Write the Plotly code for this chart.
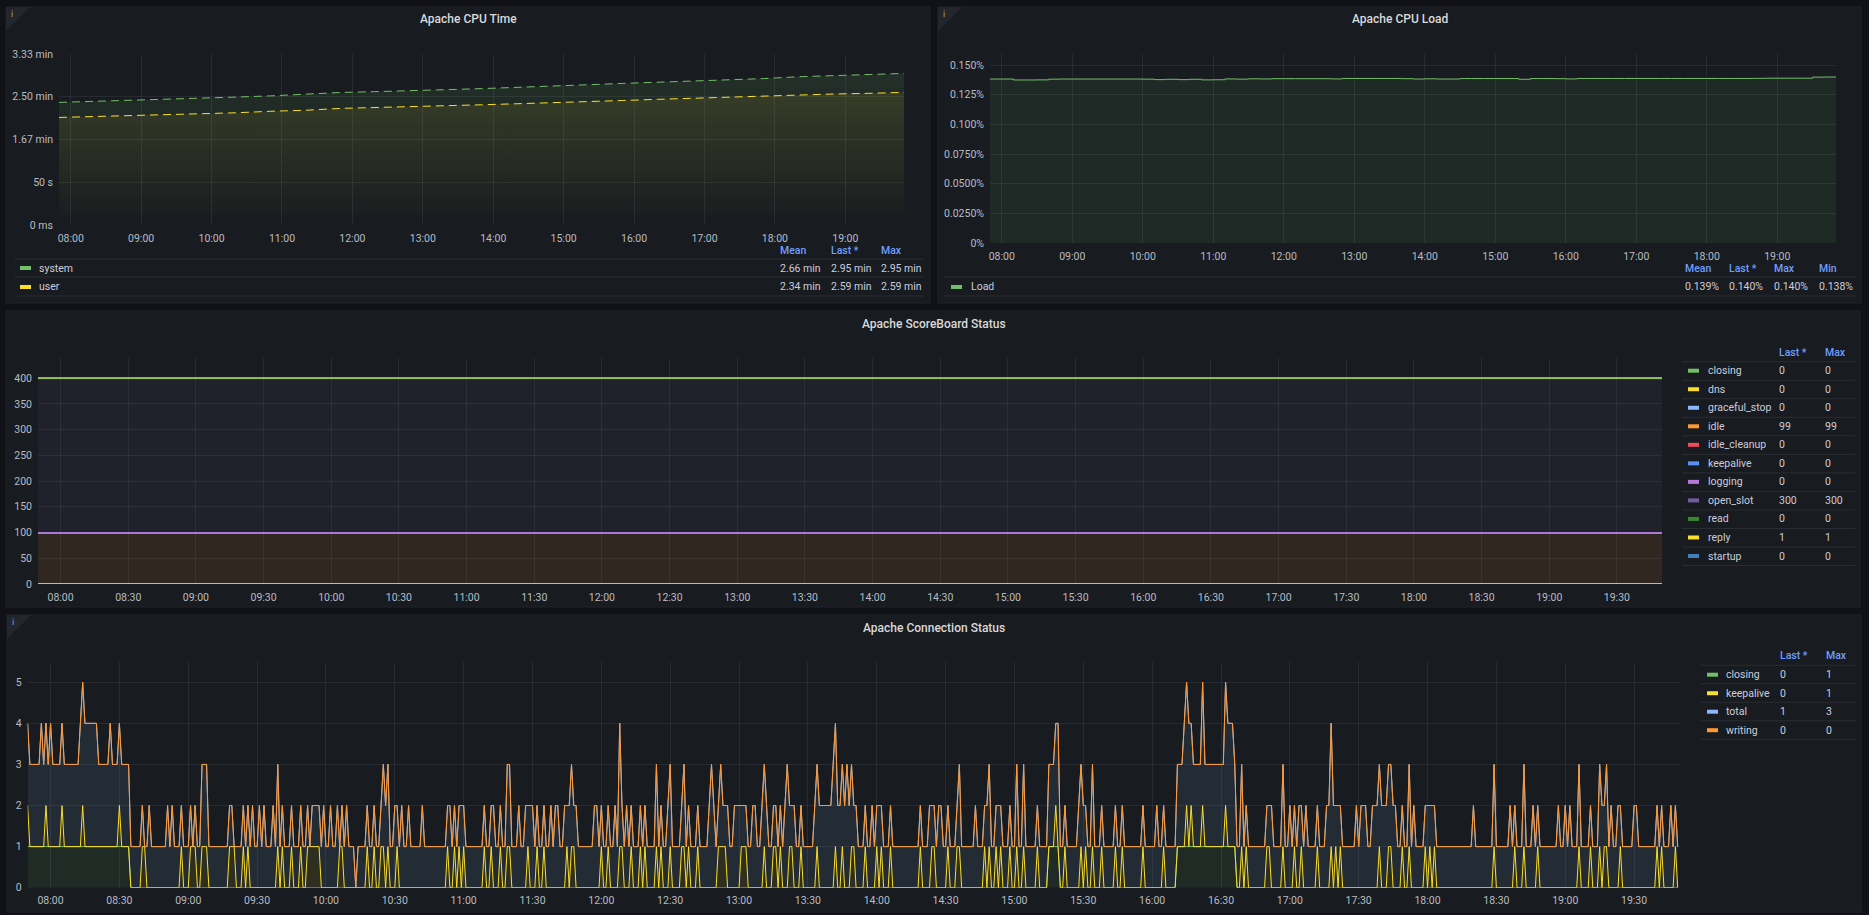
import pandas as pd
import plotly.graph_objects as go

W, H = 1869, 915
DAY = "2024-05-14"
T_START = DAY + " 07:50"
T_END = DAY + " 19:50"

FONT = "Roboto, Inter, sans-serif"
BG = "#111217"
PANEL = "#181b1f"
GRID = "rgba(204,204,220,0.09)"
SEP = "rgba(204,204,220,0.10)"
TEXT = "#ccccdc"
TICK = "#b9bcc4"
HDR = "#6e9fff"

cpu_system_s = [143.4, 144.5, 146.0, 147.2, 148.5, 149.6, 151.0, 153.0, 155.0, 156.0,
                157.5, 158.3, 159.5, 160.8, 162.8, 164.0, 165.6, 166.8, 168.6, 170.0,
                171.2, 173.4, 174.6, 175.6, 177.3]
cpu_user_s = [125.8, 126.8, 128.5, 129.5, 130.3, 131.2, 133.0, 134.2, 136.4, 137.3,
              138.4, 139.3, 140.6, 141.8, 143.0, 143.6, 145.6, 147.0, 148.4, 149.6,
              150.5, 151.8, 153.2, 154.0, 155.1]
cpu_time_ticks = [0, 50, 100, 150, 200]
cpu_time_ticktext = ["0 ms", "50 s", "1.67 min", "2.50 min", "3.33 min"]
cpu_time_header = ["Mean", "Last *", "Max"]
cpu_time_rows = [["system", "2.66 min", "2.95 min", "2.95 min"],
                 ["user", "2.34 min", "2.59 min", "2.59 min"]]

cpu_load_pct = [0.1382, 0.1382, 0.1374, 0.1374, 0.1375, 0.1381, 0.1382, 0.1382, 0.1382, 0.1382,
                0.1382, 0.1382, 0.1382, 0.1381, 0.1377, 0.1380, 0.1377, 0.1380, 0.1375, 0.1376,
                0.1383, 0.1381, 0.1384, 0.1383, 0.1385, 0.1385, 0.1385, 0.1385, 0.1385, 0.1383,
                0.1387, 0.1387, 0.1387, 0.1387, 0.1387, 0.1385, 0.1382, 0.1384, 0.1382, 0.1382,
                0.1386, 0.1386, 0.1386, 0.1386, 0.1386, 0.1380, 0.1386, 0.1386, 0.1385, 0.1383,
                0.1387, 0.1387, 0.1387, 0.1387, 0.1387, 0.1387, 0.1387, 0.1387, 0.1387, 0.1387,
                0.1387, 0.1387, 0.1387, 0.1387, 0.1387, 0.1388, 0.1389, 0.1389, 0.1389, 0.1389,
                0.1398, 0.1399, 0.1399]
cpu_load_ticks = [0, 0.025, 0.05, 0.075, 0.1, 0.125, 0.15]
cpu_load_ticktext = ["0%", "0.0250%", "0.0500%", "0.0750%", "0.100%", "0.125%", "0.150%"]
cpu_load_header = ["Mean", "Last *", "Max", "Min"]
cpu_load_rows = [["Load", "0.139%", "0.140%", "0.140%", "0.138%"]]

# ---------------- Apache ScoreBoard Status (konstant)
sb_names = ["closing", "dns", "graceful_stop", "idle", "idle_cleanup", "keepalive",
            "logging", "open_slot", "read", "reply", "startup"]
sb_last = [0, 0, 0, 99, 0, 0, 0, 300, 0, 1, 0]
sb_max = [0, 0, 0, 99, 0, 0, 0, 300, 0, 1, 0]
sb_colors = ["#73bf69", "#fade2a", "#8ab8ff", "#ff9830", "#f2495c", "#5794f2",
             "#b877d9", "#705da0", "#37872d", "#fade2a", "#447ebc"]
sb_stack_order = ["graceful_stop", "startup", "read", "dns", "idle", "idle_cleanup",
                  "keepalive", "logging", "open_slot", "reply", "closing"]

# ---------------- Apache Connection Status (1 Wert pro Minute ab 07:50, eine Zeile = 1 h)
conn_closing = [
    "1111111111 1111111111 1111111111 1111111111 1111100000 0000000000",
    "0000000000 0000000000 0000000000 0000000000 0000000000 0000000000",
    "0000000000 0000000000 0000000000 0000000000 0000000000 0000000000",
    "0000000000 0000000000 0000000000 0000000000 0000000000 0000000000",
    "0000000000 0000000000 0000000000 0000000000 0000000000 0000000000",
    "0000000000 0000000000 0000000000 0000000000 0000000000 0000000000",
    "0000000000 0000000000 0000000000 0000000000 0000000000 0000000000",
    "0000000000 0000000000 0000011111 0000000000 0000000000 0000000000",
    "0000000000 0000000000 0111111111 1111111111 1111111000 0000000000",
    "0000000000 0000000000 0000000000 0000000000 0000000000 0000000000",
    "0000000000 0000000000 0000000000 0000000000 0000000000 0000000000",
    "0000000000 0000000000 0000000000 0000000000 0000000000 0000000000",
]
conn_keepalive = [
    "1000000010 0000010000 0000100000 0000000000 1000000000 1100000000",
    "0000000100 0111001110 0000000011 1000101000 0000000001 0100010001",
    "0011111100 0000001100 0000000010 0100110100 0100000000 0000000000",
    "0001001010 1000000001 0010001001 1000000010 0010010000 0000010110",
    "0000000000 1001000011 0001000101 0000101000 1000011010 0010000000",
    "0111100000 0111000000 0100011010 0011000100 0000100000 0010010001",
    "1000010000 1010001000 0000000001 0000110000 0100011000 0000000101",
    "0010100010 0100100000 1000000010 0010000001 0100100010 0000100100",
    "0000001000 0000010000 0000010100 0010000000 0010000001 0100000000",
    "1100000100 0010010000 0010000010 1010000000 0000000001 0001100001",
    "0010000001 0101000000 0000000000 0000000001 0000000010 0010000010",
    "0000000000 0000001000 0100010110 0000100000 0000000000 1010000010",
]
conn_total = [
    "2222223222 3222222222 2223333333 3222223222 2222211111 1012111111",
    "1212111111 1101112221 1111111111 0111111121 1212111212 1111111111",
    "1110111112 1121120112 1110111111 1111122211 2112112111 1121111111",
    "1111211112 1111111111 1112111112 2111211212 2111111121 2211212212",
    "1111111221 1111112131 1211111111 1111211112 2111112111 1111111232",
    "1121121122 2111112211 2221111111 2311211111 1112222222 2332222322",
    "1211111121 1211111111 1111111111 1112111221 1111112111 1112111122",
    "1112111111 1211211111 1111122223 1111111122 2111211111 1111111111",
    "1111111111 1121111111 1222333222 2232222222 2233332112 1111111111",
    "1121111211 2111211211 1111112232 1211111112 1222112222 2222222111",
    "1121211111 2121111111 1111111111 2111111112 1111112111 1121112111",
    "1111111211 2121112111 1111122121 2112111111 2211111111 1111112111",
]
conn_writing = [
    "0000000000 0000000000 0000000000 0000000000 0000000000 0000000000",
    "0000000000 0000000000 0000000000 0000000000 0000000000 0000000000",
    "0000000000 0000000000 0000000000 0000000000 0000000000 0000000000",
    "0000000000 0000000000 0000000000 0000000000 0000000000 0000000000",
    "0000000000 0000000000 0000000000 0000000000 0000000000 0000000000",
    "0000000000 0000000000 0000000000 0000000000 0000000000 0000000000",
    "0000000000 0000000000 0000000000 0000000000 0000000000 0000000000",
    "0000000000 0000000000 0000000000 0000000000 0000000000 0000000000",
    "0000000000 0000000000 0000000000 0000000000 0000000000 0000000000",
    "0000000000 0000000000 0000000000 0000000000 0000000000 0000000000",
    "0000000000 0000000000 0000000000 0000000000 0000000000 0000000000",
    "0000000000 0000000000 0000000000 0000000000 0000000000 0000000000",
]
conn_names = ["closing", "keepalive", "total", "writing"]
conn_colors = ["#73bf69", "#fade2a", "#8ab8ff", "#ff9830"]
conn_last = [0, 0, 1, 0]
conn_max = [1, 1, 3, 0]


def decode(rows):
    s = "".join(rows).replace(" ", "")
    assert len(s) == 720, len(s)
    return [int(ch) for ch in s]


def rgba(hex_color, a):
    h = hex_color.lstrip("#")
    return "rgba(%d,%d,%d,%s)" % (int(h[0:2], 16), int(h[2:4], 16), int(h[4:6], 16), a)


def fx(x):
    return x / W


def fy(y):
    return 1 - y / H


shapes = []
annotations = []


def rect(x0, y0, x1, y1, fill, line=None, layer="below"):
    shapes.append(dict(type="rect", xref="paper", yref="paper",
                       x0=fx(x0), x1=fx(x1), y0=fy(y1), y1=fy(y0),
                       fillcolor=fill, layer=layer,
                       line=dict(color=line if line else fill, width=1 if line else 0)))


def hline(x0, x1, y):
    shapes.append(dict(type="line", xref="paper", yref="paper",
                       x0=fx(x0), x1=fx(x1), y0=fy(y), y1=fy(y),
                       line=dict(color=SEP, width=1), layer="above"))


def text(x, y, s, color=TEXT, size=10.5, anchor="left", weight=400):
    annotations.append(dict(x=fx(x), y=fy(y), xref="paper", yref="paper", text=s,
                            showarrow=False, xanchor=anchor, yanchor="middle",
                            font=dict(family=FONT, size=size, color=color, weight=weight)))


def info_corner(x0, y0):
    d = 24
    shapes.append(dict(type="path", xref="paper", yref="paper",
                       path="M %f,%f L %f,%f L %f,%f Z" % (fx(x0), fy(y0), fx(x0 + d), fy(y0),
                                                          fx(x0), fy(y0 + d)),
                       fillcolor="#23262c", line=dict(width=0), layer="below"))
    text(x0 + 3, y0 + 7, "i", color="#a0a3ab", size=9)


# Panels
panels = [(6, 7, 930, 303), (938, 7, 1861, 303), (6, 311, 1860, 607), (7, 615, 1861, 912)]
for p in panels:
    rect(*p, PANEL, line="#202328")
info_corner(6, 7)
info_corner(938, 7)
info_corner(7, 615)

text(468, 19, "Apache CPU Time", color="#d8d9da", size=12, anchor="center", weight=500)
text(1400, 19, "Apache CPU Load", color="#d8d9da", size=12, anchor="center", weight=500)
text(934, 324, "Apache ScoreBoard Status", color="#d8d9da", size=12, anchor="center", weight=500)
text(934, 628, "Apache Connection Status", color="#d8d9da", size=12, anchor="center", weight=500)

fig = go.Figure()

# ---- CPU Time
cpu_x = pd.date_range(T_START, T_END, freq="30min")
fig.add_trace(go.Scatter(
    x=cpu_x, y=cpu_system_s, xaxis="x", yaxis="y", mode="lines", name="system",
    line=dict(color="#73bf69", width=1, dash="8px,5px"), fill="tozeroy",
    fillgradient=dict(type="vertical", start=0, stop=200,
                      colorscale=[[0, rgba("#73bf69", 0)], [1, rgba("#73bf69", 0.14)]])))
fig.add_trace(go.Scatter(
    x=cpu_x, y=cpu_user_s, xaxis="x", yaxis="y", mode="lines", name="user",
    line=dict(color="#fade2a", width=1, dash="8px,5px"), fill="tozeroy",
    fillgradient=dict(type="vertical", start=0, stop=200,
                      colorscale=[[0, rgba("#fade2a", 0)], [1, rgba("#fade2a", 0.12)]])))

# ---- CPU Load
load_x = pd.date_range(T_START, T_END, freq="10min")
fig.add_trace(go.Scatter(
    x=load_x, y=cpu_load_pct, xaxis="x2", yaxis="y2", mode="lines", name="Load",
    line=dict(color="#73bf69", width=1, shape="hv"), fill="tozeroy",
    fillcolor=rgba("#73bf69", 0.09)))

# ---- ScoreBoard (gestapelt)
for name in sb_stack_order:
    i = sb_names.index(name)
    fig.add_trace(go.Scatter(
        x=[T_START, T_END], y=[sb_last[i], sb_last[i]], xaxis="x3", yaxis="y3",
        mode="lines", name=name, stackgroup="sb",
        line=dict(color=sb_colors[i], width=1.5), fillcolor=rgba(sb_colors[i], 0.1)))

# ---- Connection Status (gestapelt)
conn_x = pd.date_range(T_START, periods=720, freq="min")
conn_series = [decode(conn_closing), decode(conn_keepalive), decode(conn_total), decode(conn_writing)]
for name, col, vals in zip(conn_names, conn_colors, conn_series):
    fig.add_trace(go.Scatter(
        x=conn_x, y=vals, xaxis="x4", yaxis="y4", mode="lines", name=name,
        stackgroup="conn", line=dict(color=col, width=1), fillcolor=rgba(col, 0.1)))

# ---- Legend tables
def legend_table(header, header_x, header_y, rows, row_y, swatch_x, label_x, colors, seps, sep_x):
    for h, hx in zip(header, header_x):
        text(hx, header_y, h, color=HDR, weight=500)
    for r, ry, col in zip(rows, row_y, colors):
        rect(swatch_x, ry - 2, swatch_x + 11, ry + 2, col, layer="above")
        text(label_x, ry, r[0])
        for v, hx in zip(r[1:], header_x):
            text(hx, ry, v)
    for sy in seps:
        hline(sep_x[0], sep_x[1], sy)


legend_table(cpu_time_header, [778, 828.5, 879], 250, cpu_time_rows, [268, 287],
             20, 37, ["#73bf69", "#fade2a"], [259, 277, 296], (14, 924))
legend_table(cpu_load_header, [1682.5, 1727, 1772, 1816.5], 268, cpu_load_rows, [287],
             951, 969, ["#73bf69"], [277, 296], (944, 1856))
sb_rows = [[n, str(l), str(m)] for n, l, m in zip(sb_names, sb_last, sb_max)]
legend_table(["Last *", "Max"], [1777, 1823], 352, sb_rows,
             [370.7 + 18.53 * i for i in range(len(sb_names))],
             1688, 1705.5, sb_colors, [361.7 + 18.53 * i for i in range(len(sb_names) + 1)],
             (1682, 1855))
conn_rows = [[n, str(l), str(m)] for n, l, m in zip(conn_names, conn_last, conn_max)]
legend_table(["Last *", "Max"], [1777.6, 1823.7], 655.7, conn_rows,
             [674.7 + 18.5 * i for i in range(len(conn_names))],
             1707, 1724.3, conn_colors, [665.3 + 18.5 * i for i in range(len(conn_names) + 1)],
             (1700, 1856))

# ---- Achsen
tickfont = dict(family=FONT, size=10.5, color=TICK)


def time_axis(x0, x1, anchor, dtick_min):
    return dict(domain=[fx(x0), fx(x1)], anchor=anchor, type="date",
                range=[T_START, T_END], tick0=DAY + " 08:00", dtick=dtick_min * 60000,
                tickformat="%H:%M", showgrid=True, gridcolor=GRID, gridwidth=1,
                zeroline=False, showline=False, ticks="", tickfont=tickfont,
                ticklabelstandoff=5, automargin=False)


def value_axis(y0, y1, anchor, rng, tickvals, ticktext):
    return dict(domain=[fy(y1), fy(y0)], anchor=anchor, range=rng,
                tickvals=tickvals, ticktext=ticktext, showgrid=True, gridcolor=GRID,
                gridwidth=1, zeroline=False, showline=False, ticks="",
                tickfont=tickfont, ticklabelstandoff=5, automargin=False)


fig.update_layout(
    width=W, height=H, autosize=False, margin=dict(l=0, r=0, t=0, b=0, pad=0),
    paper_bgcolor=BG, plot_bgcolor="rgba(0,0,0,0)", showlegend=False,
    font=dict(family=FONT, color=TEXT),
    xaxis=time_axis(59, 904, "y", 60),
    yaxis=value_axis(54, 225, "x", [0, 200], cpu_time_ticks, cpu_time_ticktext),
    xaxis2=time_axis(990, 1836, "y2", 60),
    yaxis2=value_axis(54, 243, "x2", [0, 0.1593], cpu_load_ticks, cpu_load_ticktext),
    xaxis3=time_axis(38, 1662, "y3", 30),
    yaxis3=value_axis(358, 584, "x3", [0, 439], list(range(0, 401, 50)),
                      [str(v) for v in range(0, 401, 50)]),
    xaxis4=time_axis(27.6, 1680, "y4", 30),
    yaxis4=value_axis(661.7, 887.7, "x4", [0, 5.5], [0, 1, 2, 3, 4, 5],
                      ["0", "1", "2", "3", "4", "5"]),
    shapes=shapes, annotations=annotations,
)

# Seite ohne Rand, damit das Bild genau beim Pixel 0,0 beginnt
fig.write_html("out.html", config={"displayModeBar": False},
               post_script="document.body.style.margin='0';")
